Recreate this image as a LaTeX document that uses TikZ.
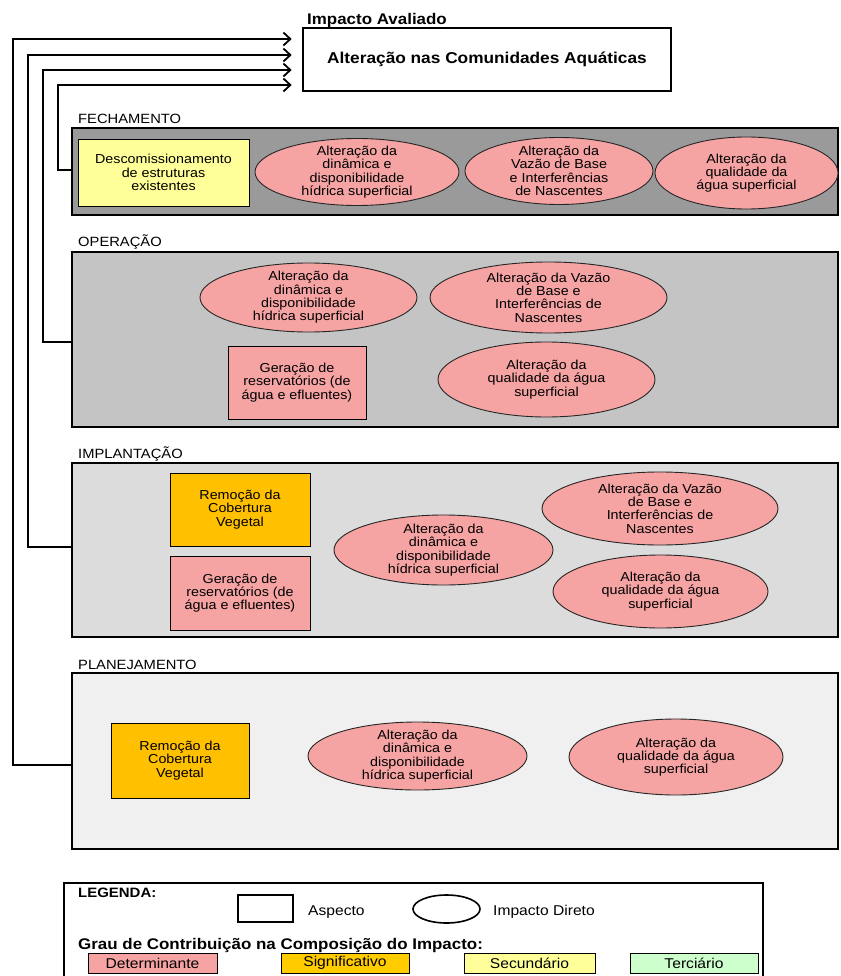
\documentclass[tikz,border=0pt]{standalone}
\usepackage{fontspec}
\setmainfont{Liberation Sans}[FakeStretch=1.1]
\usetikzlibrary{shapes.geometric,arrows.meta}

\definecolor{detcol}{HTML}{F5A3A3}
\definecolor{sigcol}{HTML}{FFC000}
\definecolor{siglegcol}{HTML}{FFCC00}
\definecolor{seccol}{HTML}{FFFF99}
\definecolor{tercol}{HTML}{CCFFCC}
\definecolor{fechcol}{HTML}{9A9A9A}
\definecolor{opercol}{HTML}{C4C4C4}
\definecolor{implcol}{HTML}{DCDCDC}
\definecolor{plancol}{HTML}{F0F0F0}

\tikzset{
  txt/.style={font=\fontsize{13}{13.3}\selectfont, align=center, inner sep=0pt},
  phaselabel/.style={font=\fontsize{13.4}{14}\selectfont, anchor=base west, inner sep=0pt},
  panel/.style={draw, line width=1.8pt, rectangle, inner sep=0pt, minimum width=766pt},
  aspectbox/.style={draw, line width=0.8pt, rectangle, inner sep=0pt, txt},
  impact/.style={ellipse, draw=black!85, line width=0.9pt, fill=detcol, inner sep=0pt},
  arr/.style={line width=1.8pt, -{Straight Barb[length=7pt,width=13pt]}, shorten >=10pt},
  legtext/.style={font=\fontsize{14.2}{15}\selectfont, anchor=base west, inner sep=0pt},
  legbold/.style={font=\fontsize{13.6}{15}\selectfont\bfseries, anchor=base west, inner sep=0pt},
  gradebox/.style={draw, line width=0.8pt, rectangle, inner sep=0pt, minimum height=20pt,
    font=\fontsize{14.2}{15}\selectfont},
}

% impact ellipse with its text laid on top
\newcommand\impactnode[6]{%
  \node[impact, minimum width=#4pt, minimum height=#5pt] (#1) at (#2,#3) {};
  \node[txt] (#1-t) at (#1) {#6};}

\begin{document}
\begin{tikzpicture}[x=1pt,y=-1pt]
\useasboundingbox (0,0) rectangle (840,976);

% evaluated impact
\node[font=\fontsize{15.4}{16}\selectfont\bfseries, anchor=base west, inner sep=0pt] (title) at (307,25) {Impacto Avaliado};
\node[draw, line width=2.6pt, minimum width=368pt, minimum height=63pt, inner sep=0pt,
  font=\fontsize{15.7}{17}\selectfont\bfseries] (main) at (487,59.5) {Alteração nas Comunidades Aquáticas};

% phase panels
\node[phaselabel] (fechl) at (78,124) {FECHAMENTO};
\node[panel, fill=fechcol, minimum height=87pt] (fech) at (455,171.5) {};
\node[phaselabel] (operl) at (78,247) {OPERAÇÃO};
\node[panel, fill=opercol, minimum height=175pt] (oper) at (455,339.5) {};
\node[phaselabel] (impll) at (78,458) {IMPLANTAÇÃO};
\node[panel, fill=implcol, minimum height=174pt] (impl) at (455,550) {};
\node[phaselabel] (planl) at (78,669) {PLANEJAMENTO};
\node[panel, fill=plancol, minimum height=176pt] (plan) at (455,761) {};

% FECHAMENTO
\node[aspectbox, fill=seccol, minimum width=171pt, minimum height=67pt] (fdesc) at (163.5,172.5)
  {Descomissionamento\\de estruturas\\existentes};
\impactnode{fdin}{357}{172}{204}{67}{Alteração da\\dinâmica e\\disponibilidade\\hídrica superficial}
\impactnode{fvaz}{559}{171}{188}{67}{Alteração da\\Vazão de Base\\e Interferências\\de Nascentes}
\impactnode{fqua}{746.5}{173}{183}{72}{Alteração da\\qualidade da\\água superficial}

% OPERAÇÃO
\impactnode{odin}{308.5}{297.5}{217}{69}{Alteração da\\dinâmica e\\disponibilidade\\hídrica superficial}
\impactnode{ovaz}{548.5}{297.5}{237}{71}{Alteração da Vazão\\de Base e\\Interferências de\\Nascentes}
\node[aspectbox, fill=detcol, minimum width=138pt, minimum height=73pt] (oger) at (297,382.5)
  {Geração de\\reservatórios (de\\água e efluentes)};
\impactnode{oqua}{546.5}{379.5}{217}{75}{Alteração da\\qualidade da água\\superficial}

% IMPLANTAÇÃO
\node[aspectbox, fill=sigcol, minimum width=140pt, minimum height=73pt] (irem) at (240,509.5)
  {Remoção da\\Cobertura\\Vegetal};
\node[aspectbox, fill=detcol, minimum width=140pt, minimum height=74pt] (iger) at (240,593)
  {Geração de\\reservatórios (de\\água e efluentes)};
\impactnode{idin}{443.5}{550}{219}{70}{Alteração da\\dinâmica e\\disponibilidade\\hídrica superficial}
\impactnode{ivaz}{660}{508.5}{236}{73}{Alteração da Vazão\\de Base e\\Interferências de\\Nascentes}
\impactnode{iqua}{660.5}{591.5}{215}{73}{Alteração da\\qualidade da água\\superficial}

% PLANEJAMENTO
\node[aspectbox, fill=sigcol, minimum width=138pt, minimum height=75pt] (prem) at (180,760.5)
  {Remoção da\\Cobertura\\Vegetal};
\impactnode{pdin}{417.5}{756}{219}{68}{Alteração da\\dinâmica e\\disponibilidade\\hídrica superficial}
\impactnode{pqua}{676}{757}{214}{76}{Alteração da\\qualidade da água\\superficial}

% links from each phase to the evaluated impact
\draw[arr] (plan.west |- 0,765) -| (13,39) -- (main.west |- 0,39);
\draw[arr] (impl.west |- 0,547) -| (28,55) -- (main.west |- 0,55);
\draw[arr] (oper.west |- 0,342) -| (43,70) -- (main.west |- 0,70);
\draw[arr] (fech.west |- 0,170) -| (58,85) -- (main.west |- 0,85);

% legend
\node[draw, line width=2.2pt, fill=white, minimum width=699pt, minimum height=107pt, inner sep=0pt] (leg) at (413.5,936.5) {};
\node[legbold] (legt) at (78,897) {LEGENDA:};
\node[draw, line width=1.6pt, minimum width=55pt, minimum height=27pt, inner sep=0pt] (legasp) at (265.5,908.5) {};
\node[legtext] (legaspt) at (308,915) {Aspecto};
\node[ellipse, draw, line width=1.6pt, minimum width=67pt, minimum height=28pt, inner sep=0pt] (legimp) at (446.5,909) {};
\node[legtext] (legimpt) at (493,915) {Impacto Direto};
\node[legbold, font=\fontsize{15.4}{16}\selectfont\bfseries] (leggrau) at (78,949) {Grau de Contribuição na Composição do Impacto:};
\node[gradebox, fill=detcol, minimum width=129pt] (gdet) at (152.5,963) {Determinante};
\node[gradebox, fill=siglegcol, minimum width=128pt] (gsig) at (345,963) {Significativo};
\node[gradebox, fill=seccol, minimum width=131pt] (gsec) at (529.5,963) {Secundário};
\node[gradebox, fill=tercol, minimum width=128pt] (gter) at (694,963) {Terciário};
\end{tikzpicture}
\end{document}
